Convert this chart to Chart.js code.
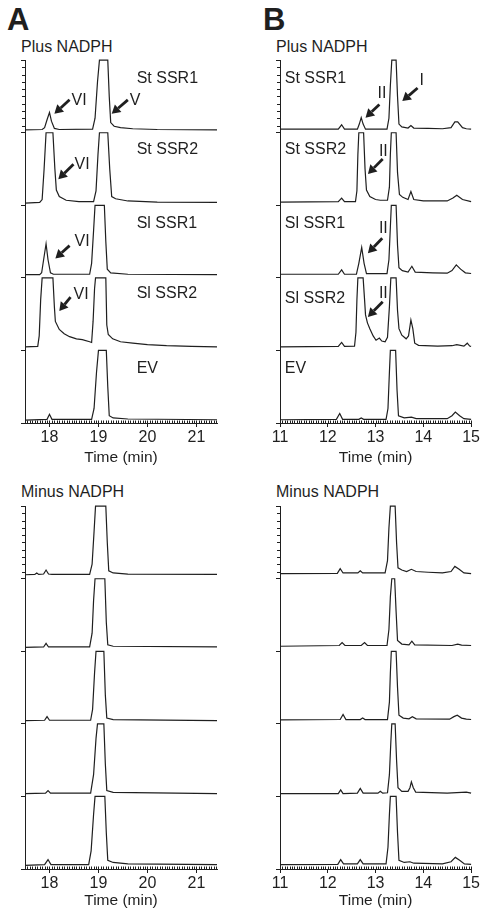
<!DOCTYPE html>
<html>
<head>
<meta charset="utf-8">
<script src="https://cdn.jsdelivr.net/npm/chart.js@4.4.1/dist/chart.umd.min.js"></script>
<style>
  body{margin:0;width:481px;height:913px;background:#fff;position:relative;overflow:hidden;
    font-family:"Liberation Sans",Arial,Helvetica,sans-serif;color:#1f1f1f}
  .t{position:absolute;font-size:16px;line-height:16px;white-space:nowrap}
  .big{font-size:31px;line-height:31px;font-weight:bold}
  canvas{position:absolute}
</style>
</head>
<body>
<div class="t big" style="left:7px;top:4px">A</div>
<div class="t big" style="left:263px;top:4px">B</div>
<div class="t" style="left:21px;top:39px">Plus NADPH</div>
<div class="t" style="left:276px;top:39px">Plus NADPH</div>
<div class="t" style="left:21px;top:484px">Minus NADPH</div>
<div class="t" style="left:276px;top:484px">Minus NADPH</div>

<canvas id="aPlus" width="230" height="425" style="left:0;top:50px"></canvas>
<canvas id="bPlus" width="226" height="425" style="left:255px;top:50px"></canvas>
<canvas id="aMinus" width="230" height="417" style="left:0;top:496px"></canvas>
<canvas id="bMinus" width="226" height="417" style="left:255px;top:496px"></canvas>

<script>
// Each trace: [time (min), height inside its strip, 0 = strip bottom, 1 = strip top / clipped]
// ---- A, plus NADPH
const plusA_StSSR1 = [[17.5,0.04],[17.85,0.045],[17.9,0.07],[17.95,0.18],[18.0,0.28],[18.04,0.16],[18.1,0.06],[18.2,0.045],[18.88,0.05],[18.93,0.2],[18.98,0.7],[19.02,1],[19.19,1],[19.22,0.5],[19.25,0.14],[19.32,0.09],[19.45,0.07],[19.7,0.055],[20.2,0.045],[21.42,0.04]];
const plusA_StSSR2 = [[17.5,0.03],[17.8,0.04],[17.85,0.08],[17.89,0.5],[17.93,1],[18.07,1],[18.11,0.5],[18.14,0.21],[18.2,0.12],[18.34,0.07],[18.6,0.05],[18.9,0.05],[18.95,0.2],[18.99,0.7],[19.02,1],[19.19,1],[19.23,0.5],[19.27,0.12],[19.35,0.09],[19.6,0.06],[20.2,0.045],[21.42,0.04]];
const plusA_SlSSR1 = [[17.5,0.045],[17.8,0.045],[17.84,0.07],[17.88,0.25],[17.93,0.47],[17.97,0.25],[18.02,0.07],[18.08,0.05],[18.82,0.05],[18.86,0.2],[18.9,0.65],[18.93,1],[19.12,1],[19.15,0.5],[19.18,0.12],[19.25,0.07],[19.6,0.05],[21.42,0.045]];
const plusA_SlSSR2 = [[17.5,0.05],[17.76,0.055],[17.79,0.2],[17.82,0.7],[17.85,1],[18.07,1],[18.1,0.6],[18.12,0.4],[18.2,0.29],[18.3,0.23],[18.41,0.19],[18.55,0.16],[18.67,0.15],[18.82,0.12],[18.86,0.11],[18.89,0.4],[18.92,0.85],[18.94,1],[19.15,1],[19.17,0.35],[19.2,0.22],[19.29,0.16],[19.45,0.12],[19.7,0.1],[20.0,0.08],[20.39,0.065],[20.9,0.055],[21.42,0.05]];
const plusA_EV = [[17.5,0.04],[17.95,0.05],[18.0,0.12],[18.05,0.05],[18.86,0.05],[18.91,0.2],[18.96,0.7],[19.0,1],[19.16,1],[19.19,0.5],[19.22,0.1],[19.3,0.07],[19.6,0.055],[21.42,0.045]];
// ---- A, minus NADPH
const minusA_1 = [[17.5,0.055],[17.7,0.06],[17.74,0.08],[17.78,0.06],[17.88,0.065],[17.93,0.12],[17.98,0.065],[18.05,0.06],[18.82,0.06],[18.87,0.2],[18.91,0.65],[18.94,1],[19.15,1],[19.18,0.5],[19.21,0.11],[19.3,0.08],[19.6,0.065],[21.42,0.06]];
const minusA_2 = [[17.5,0.055],[17.88,0.06],[17.93,0.11],[17.98,0.06],[18.82,0.06],[18.87,0.25],[18.9,0.7],[18.93,1],[19.13,1],[19.16,0.4],[19.19,0.09],[19.3,0.07],[21.42,0.06]];
const minusA_3 = [[17.5,0.045],[17.9,0.05],[17.95,0.1],[18.0,0.05],[18.84,0.05],[18.88,0.2],[18.92,0.7],[18.95,1],[19.11,1],[19.14,0.4],[19.17,0.08],[19.3,0.06],[21.42,0.045]];
const minusA_4 = [[17.5,0.04],[17.92,0.045],[17.97,0.08],[18.02,0.045],[18.84,0.045],[18.9,0.3],[18.95,0.8],[18.98,1],[19.11,1],[19.14,0.45],[19.17,0.08],[19.3,0.055],[21.42,0.04]];
const minusA_5 = [[17.5,0.05],[17.9,0.06],[17.97,0.13],[18.03,0.06],[18.8,0.06],[18.85,0.25],[18.9,0.75],[18.93,1],[19.13,1],[19.16,0.5],[19.19,0.12],[19.3,0.09],[19.6,0.07],[21.42,0.06]];
// ---- B, plus NADPH
const plusB_StSSR1 = [[11,0.05],[12.22,0.05],[12.29,0.11],[12.35,0.05],[12.62,0.05],[12.66,0.12],[12.7,0.21],[12.74,0.12],[12.79,0.05],[13.24,0.05],[13.28,0.2],[13.31,0.65],[13.34,1],[13.43,1],[13.46,0.5],[13.49,0.12],[13.55,0.08],[13.68,0.065],[13.74,0.1],[13.8,0.065],[14.1,0.06],[14.4,0.055],[14.58,0.07],[14.66,0.15],[14.72,0.15],[14.82,0.07],[14.9,0.055],[15,0.05]];
const plusB_StSSR2 = [[11,0.045],[12.22,0.05],[12.29,0.1],[12.35,0.05],[12.58,0.05],[12.61,0.2],[12.63,0.7],[12.65,1],[12.75,1],[12.78,0.5],[12.81,0.21],[12.88,0.12],[13.0,0.08],[13.1,0.07],[13.25,0.07],[13.29,0.25],[13.31,0.7],[13.33,1],[13.43,1],[13.46,0.45],[13.5,0.15],[13.57,0.11],[13.68,0.08],[13.74,0.19],[13.8,0.08],[14.0,0.06],[14.5,0.06],[14.62,0.1],[14.7,0.14],[14.82,0.08],[15,0.05]];
const plusB_SlSSR1 = [[11,0.05],[12.22,0.05],[12.29,0.11],[12.35,0.05],[12.6,0.05],[12.65,0.2],[12.71,0.42],[12.76,0.2],[12.81,0.06],[13.24,0.06],[13.28,0.25],[13.31,0.7],[13.33,1],[13.43,1],[13.46,0.45],[13.49,0.14],[13.56,0.1],[13.68,0.08],[13.76,0.16],[13.83,0.08],[14.2,0.07],[14.5,0.065],[14.6,0.1],[14.69,0.18],[14.78,0.12],[14.88,0.07],[15,0.06]];
const plusB_SlSSR2 = [[11,0.05],[12.22,0.055],[12.29,0.11],[12.35,0.055],[12.56,0.06],[12.59,0.25],[12.61,0.7],[12.63,1],[12.74,1],[12.77,0.7],[12.79,0.49],[12.83,0.38],[12.88,0.3],[12.95,0.2],[13.01,0.14],[13.08,0.17],[13.13,0.13],[13.2,0.12],[13.25,0.18],[13.29,0.6],[13.32,1],[13.43,1],[13.46,0.55],[13.49,0.3],[13.55,0.21],[13.64,0.16],[13.69,0.2],[13.74,0.42],[13.78,0.3],[13.82,0.1],[13.9,0.07],[14.3,0.06],[14.6,0.065],[14.7,0.08],[14.85,0.06],[14.92,0.1],[14.97,0.06],[15,0.055]];
const plusB_EV = [[11,0.045],[12.18,0.05],[12.25,0.13],[12.31,0.05],[12.65,0.05],[12.7,0.07],[12.75,0.05],[13.22,0.05],[13.26,0.2],[13.29,0.7],[13.31,1],[13.42,1],[13.45,0.45],[13.48,0.1],[13.6,0.07],[13.75,0.08],[13.85,0.06],[14.5,0.06],[14.6,0.1],[14.67,0.15],[14.76,0.1],[14.85,0.06],[15,0.05]];
// ---- B, minus NADPH
const minusB_1 = [[11,0.07],[12.2,0.075],[12.26,0.14],[12.32,0.08],[12.63,0.08],[12.68,0.11],[12.73,0.08],[13.2,0.08],[13.25,0.25],[13.28,0.7],[13.31,1],[13.41,1],[13.44,0.5],[13.47,0.15],[13.55,0.12],[13.65,0.1],[13.75,0.13],[13.85,0.1],[14.1,0.09],[14.4,0.08],[14.58,0.1],[14.66,0.17],[14.75,0.13],[14.85,0.08],[15,0.07]];
const minusB_2 = [[11,0.07],[12.24,0.08],[12.3,0.12],[12.36,0.08],[12.7,0.08],[12.77,0.12],[12.83,0.08],[13.24,0.08],[13.28,0.3],[13.31,0.75],[13.34,1],[13.4,1],[13.43,0.55],[13.46,0.15],[13.55,0.1],[13.7,0.09],[13.76,0.14],[13.82,0.09],[14.6,0.08],[14.72,0.1],[14.8,0.085],[15,0.08]];
const minusB_3 = [[11,0.055],[12.26,0.06],[12.32,0.13],[12.38,0.06],[12.68,0.06],[12.73,0.08],[12.78,0.06],[13.25,0.06],[13.29,0.3],[13.31,0.7],[13.33,1],[13.43,1],[13.46,0.5],[13.49,0.12],[13.58,0.08],[13.7,0.07],[13.77,0.1],[13.85,0.07],[14.55,0.065],[14.64,0.1],[14.71,0.12],[14.8,0.08],[14.9,0.065],[15,0.06]];
const minusB_4 = [[11,0.04],[12.22,0.04],[12.27,0.09],[12.32,0.04],[12.62,0.045],[12.68,0.11],[12.74,0.045],[13.05,0.045],[13.1,0.07],[13.15,0.045],[13.25,0.05],[13.29,0.3],[13.32,0.75],[13.34,1],[13.41,1],[13.44,0.5],[13.47,0.12],[13.55,0.07],[13.68,0.07],[13.72,0.12],[13.75,0.2],[13.79,0.12],[13.84,0.06],[14.5,0.045],[14.9,0.06],[15,0.045]];
const minusB_5 = [[11,0.06],[12.21,0.065],[12.27,0.13],[12.33,0.07],[12.62,0.07],[12.68,0.13],[12.74,0.07],[13.22,0.07],[13.26,0.3],[13.29,0.75],[13.31,1],[13.43,1],[13.46,0.5],[13.49,0.12],[13.6,0.09],[13.72,0.1],[13.8,0.08],[14.4,0.07],[14.58,0.1],[14.67,0.16],[14.76,0.12],[14.86,0.07],[15,0.065]];

const traceNames = ["St SSR1","St SSR2","Sl SSR1","Sl SSR2","EV"];
const tickTimesA = [18,19,20,21];
const tickTimesB = [11,12,13,14,15];
// where the strip names sit (time, height inside strip)
const nameTimeA = 19.78, nameRelA = [0.74,0.77,0.746,0.79,0.751];
const nameTimeB = 11.1,  nameRelB = [0.74,0.77,0.746,0.72,0.751];
// peak arrows: tail, head and label anchor in (time, stacked y)
const arrowsA = [
  {text:"VI", tail:[18.41,4.454], head:[18.10,4.262], at:[18.45,4.44]},
  {text:"V",  tail:[19.60,4.454], head:[19.27,4.262], at:[19.64,4.44]},
  {text:"VI", tail:[18.49,3.566], head:[18.18,3.361], at:[18.51,3.566]},
  {text:"VI", tail:[18.41,2.445], head:[18.12,2.268], at:[18.51,2.5]},
  {text:"VI", tail:[18.43,1.735], head:[18.20,1.544], at:[18.49,1.776]}
];
const arrowsB = [
  {text:"II", tail:[13.08,4.389], head:[12.79,4.208], at:[13.04,4.54]},
  {text:"I",  tail:[13.88,4.617], head:[13.56,4.436], at:[13.92,4.713]},
  {text:"II", tail:[13.15,3.638], head:[12.84,3.433], at:[13.07,3.743]},
  {text:"II", tail:[13.14,2.545], head:[12.84,2.34],  at:[13.07,2.678]},
  {text:"II", tail:[13.15,1.671], head:[12.84,1.462], at:[13.07,1.786]}
];

const INK = "#1f1f1f";
const FONT = '"Liberation Sans", Arial, Helvetica, sans-serif';

// minor ticks, strip names and arrows
const decor = {
  id: "decor",
  afterDraw(chart, args, o) {
    const {ctx, chartArea: a, scales: {x, y}} = chart;
    ctx.save();
    ctx.strokeStyle = INK; ctx.lineWidth = 1;
    ctx.beginPath();
    for (let i = Math.ceil(x.min * 20); i <= Math.floor(x.max * 20 + 1e-6); i++) {
      const px = Math.round(x.getPixelForValue(i / 20)) + 0.5;
      ctx.moveTo(px, a.bottom); ctx.lineTo(px, a.bottom - 2.5);
    }
    for (let k = 1; k < 10; k++) {
      const py = Math.round(y.getPixelForValue(4 + k / 10)) + 0.5;
      ctx.moveTo(a.left, py); ctx.lineTo(a.left - 3, py);
    }
    ctx.stroke();
    ctx.fillStyle = INK;
    ctx.font = "16px " + FONT;
    ctx.textBaseline = "middle"; ctx.textAlign = "left";
    if (o.names) o.names.forEach((n, i) =>
      ctx.fillText(n, x.getPixelForValue(o.nameTime), y.getPixelForValue(4 - i + o.nameRel[i])));
    (o.arrows || []).forEach(ar => {
      const x0 = x.getPixelForValue(ar.tail[0]), y0 = y.getPixelForValue(ar.tail[1]);
      const x1 = x.getPixelForValue(ar.head[0]), y1 = y.getPixelForValue(ar.head[1]);
      const ang = Math.atan2(y1 - y0, x1 - x0), hl = 8.5, hw = 5;
      const bx = x1 - hl * Math.cos(ang), by = y1 - hl * Math.sin(ang);
      ctx.lineWidth = 2.8; ctx.lineCap = "butt";
      ctx.beginPath(); ctx.moveTo(x0, y0); ctx.lineTo(bx, by); ctx.stroke();
      ctx.beginPath(); ctx.moveTo(x1, y1);
      ctx.lineTo(bx + hw * Math.sin(ang), by - hw * Math.cos(ang));
      ctx.lineTo(bx - hw * Math.sin(ang), by + hw * Math.cos(ang));
      ctx.closePath(); ctx.fill();
      ctx.fillText(ar.text, x.getPixelForValue(ar.at[0]), y.getPixelForValue(ar.at[1]));
    });
    ctx.restore();
  }
};

function stack(traces) {
  return traces.map((tr, i) => ({
    data: tr.map(([t, h]) => ({x: t, y: 4 - i + h})),
    borderColor: INK, borderWidth: 1.2, pointRadius: 0, tension: 0, fill: false, clip: false
  }));
}

function panel(id, traces, xMin, xMax, ticks, padRight, axisH, titlePad, decorOpts) {
  new Chart(document.getElementById(id), {
    type: "line",
    data: {datasets: stack(traces)},
    options: {
      responsive: false, animation: false, devicePixelRatio: 1,
      layout: {padding: {top: 7, right: padRight, left: 0, bottom: 0}},
      plugins: {legend: {display: false}, tooltip: {enabled: false}, decor: decorOpts},
      scales: {
        x: {type: "linear", min: xMin, max: xMax,
          afterBuildTicks: ax => { ax.ticks = ticks.map(v => ({value: v})); },
          afterFit: s => { s.height = axisH; },
          grid: {display: true, drawOnChartArea: false, drawTicks: true, tickLength: 4, color: INK},
          border: {display: true, color: INK, width: 1},
          ticks: {color: INK, font: {size: 16, family: FONT}, padding: 1, maxRotation: 0, autoSkip: false},
          title: {display: true, text: "Time (min)", color: INK, font: {size: 15.5, family: FONT}, padding: {top: 0, bottom: titlePad}}},
        y: {type: "linear", min: 0, max: 5,
          afterBuildTicks: ax => { ax.ticks = [0,1,2,3,4,5].map(v => ({value: v})); },
          afterFit: s => { s.width = 25; },
          grid: {display: true, drawOnChartArea: false, drawTicks: true, tickLength: 4, color: INK},
          border: {display: true, color: INK, width: 1},
          ticks: {callback: () => ""}}
      }
    },
    plugins: [decor]
  });
}

panel("aPlus", [plusA_StSSR1, plusA_StSSR2, plusA_SlSSR1, plusA_SlSSR2, plusA_EV], 17.5, 21.42, tickTimesA, 13, 52, 8,
  {names: traceNames, nameTime: nameTimeA, nameRel: nameRelA, arrows: arrowsA});
panel("bPlus", [plusB_StSSR1, plusB_StSSR2, plusB_SlSSR1, plusB_SlSSR2, plusB_EV], 11, 15, tickTimesB, 9, 52, 8,
  {names: traceNames, nameTime: nameTimeB, nameRel: nameRelB, arrows: arrowsB});
panel("aMinus", [minusA_1, minusA_2, minusA_3, minusA_4, minusA_5], 17.5, 21.42, tickTimesA, 13, 44, 3, {});
panel("bMinus", [minusB_1, minusB_2, minusB_3, minusB_4, minusB_5], 11, 15, tickTimesB, 9, 44, 3, {});
</script>
</body>
</html>
